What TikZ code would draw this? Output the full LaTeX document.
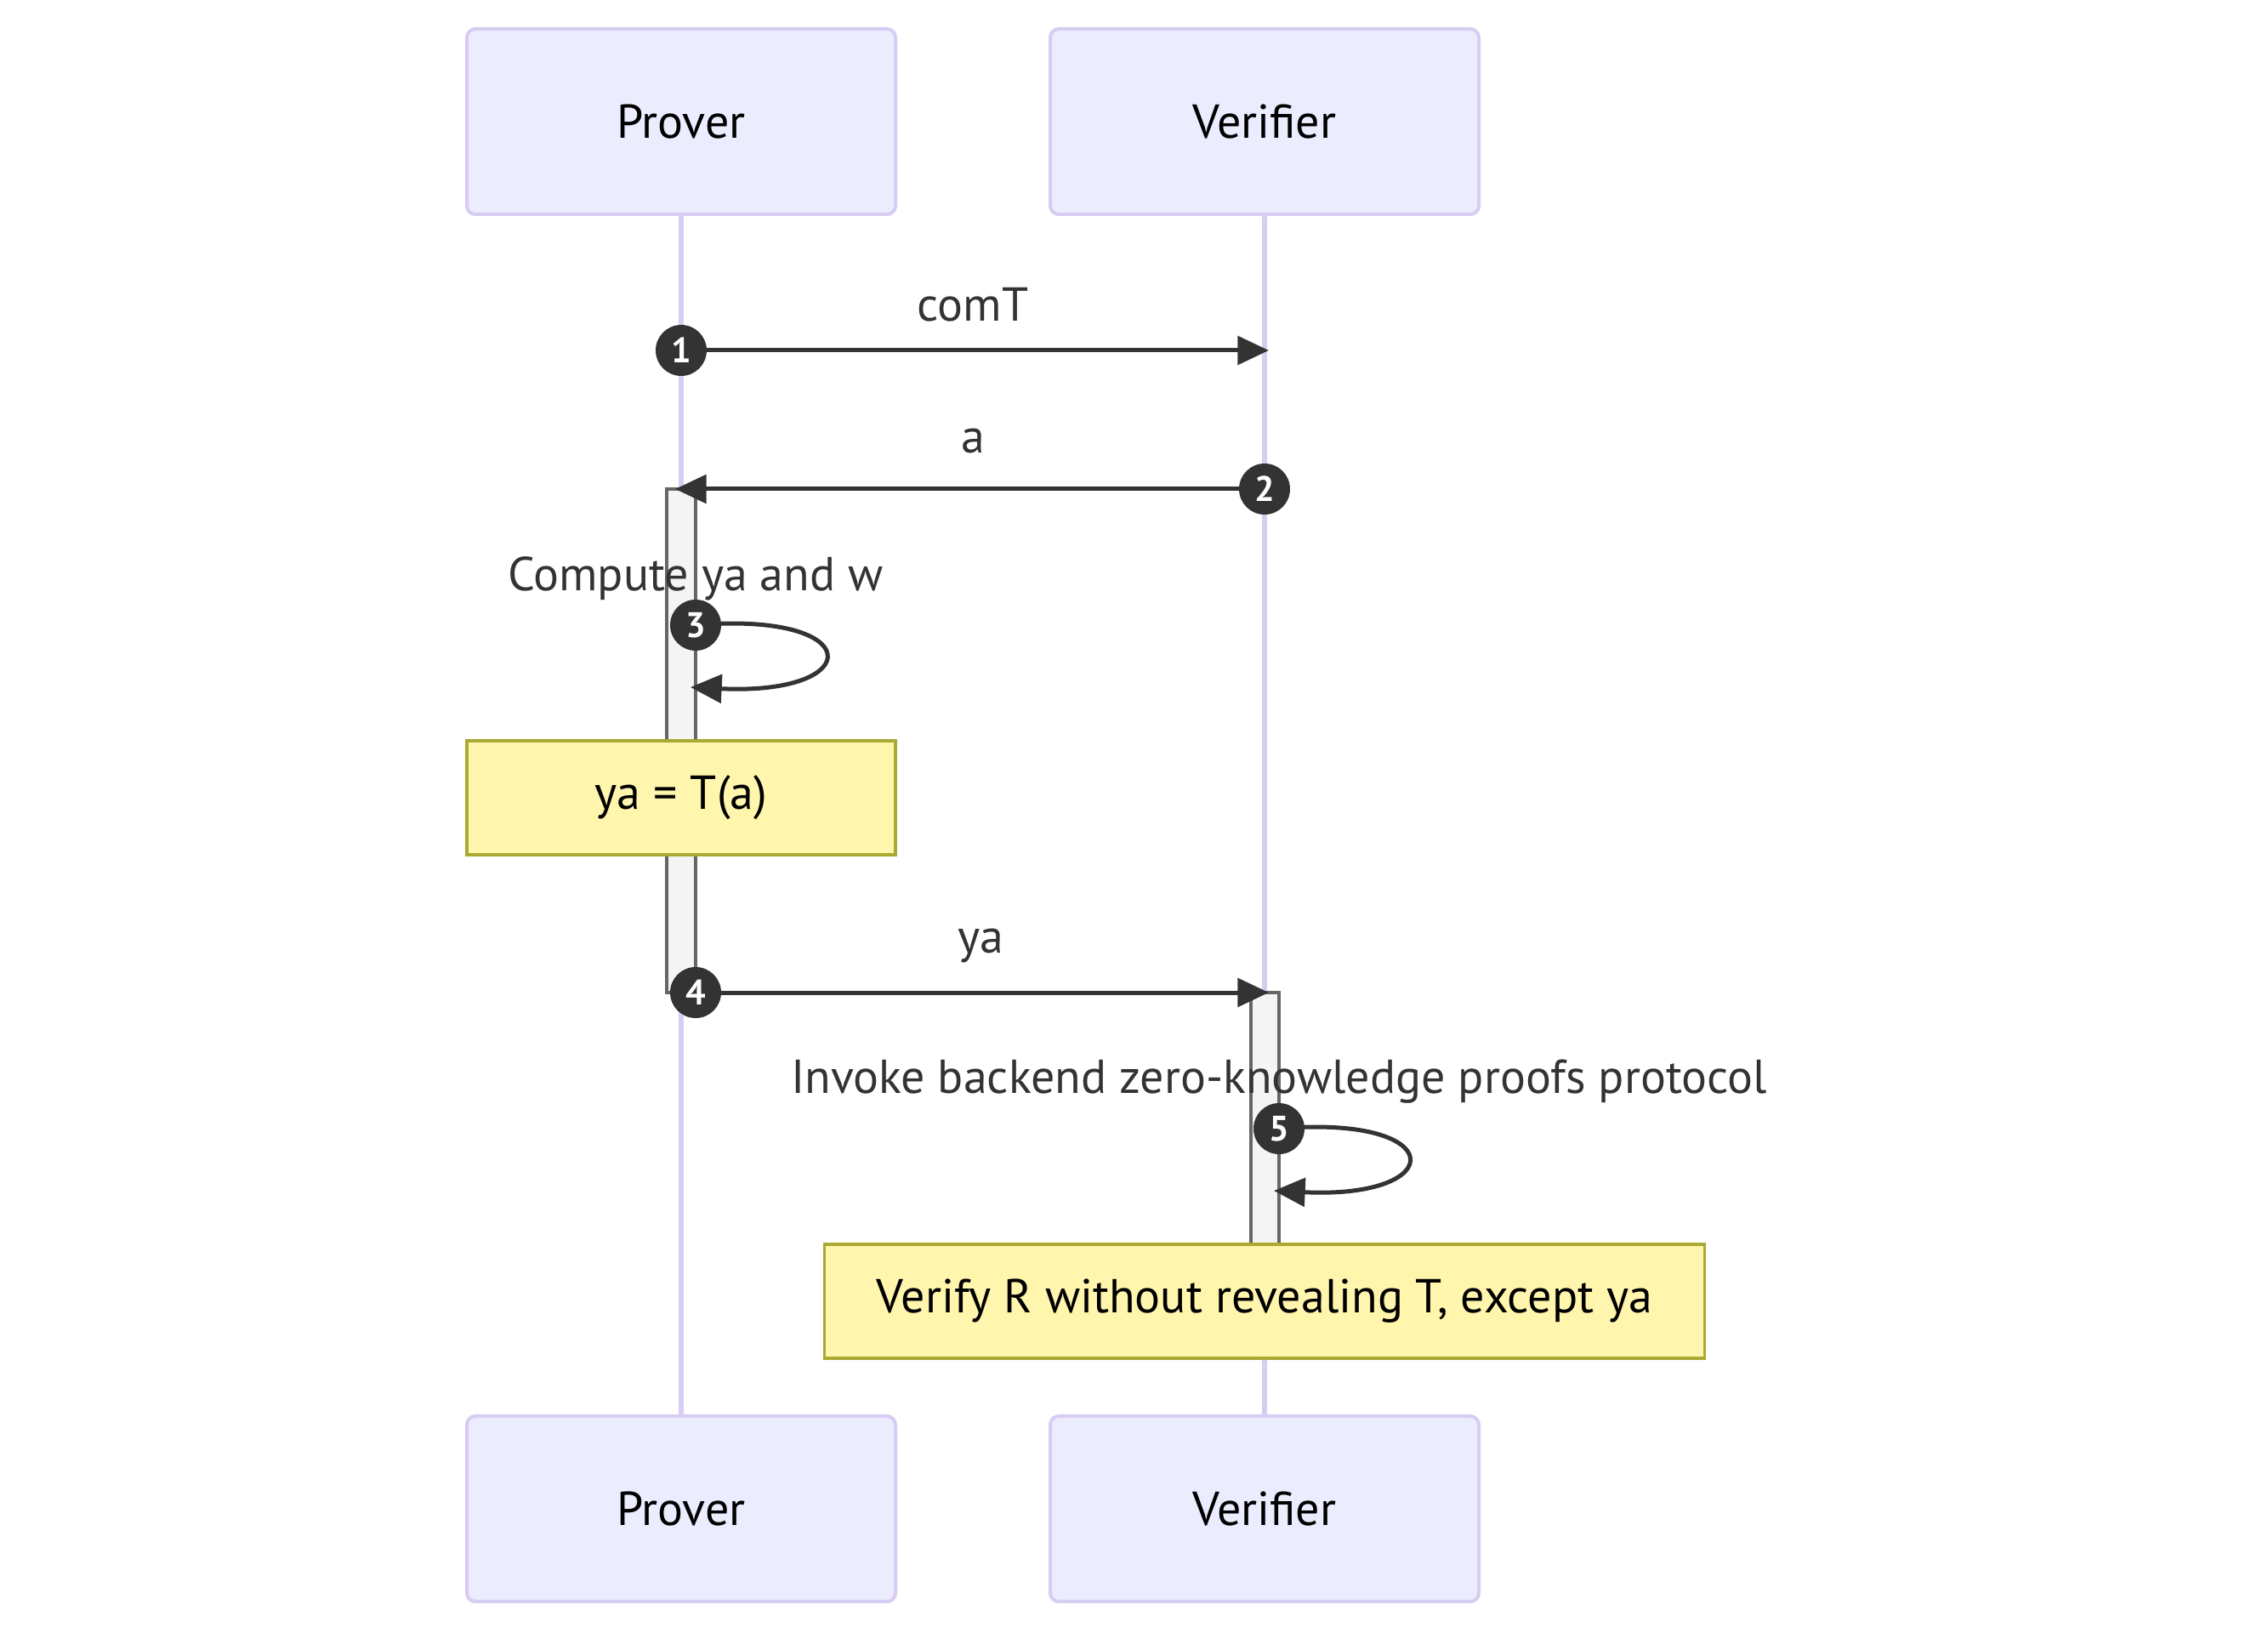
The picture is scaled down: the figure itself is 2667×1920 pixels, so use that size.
\documentclass[tikz,border=0pt]{standalone}
\usepackage{fontspec}
\setmainfont{PT Sans}
\usetikzlibrary{positioning, arrows.meta}

\definecolor{actorfill}{HTML}{ECECFF}
\definecolor{actorline}{HTML}{D7CCF2}
\definecolor{msgline}{HTML}{333333}
\definecolor{notefill}{HTML}{FFF5AD}
\definecolor{noteline}{HTML}{AAAA33}
\definecolor{actfill}{HTML}{F4F4F4}
\definecolor{actline}{HTML}{666666}

\begin{document}
\begin{tikzpicture}[x=0.3pt, y=-0.3pt, node distance=205.8pt, on grid,
    actor/.style={draw=actorline, fill=actorfill, line width=1.2pt, rounded corners=3pt,
      minimum width=151.2pt, minimum height=65.4pt, font=\fontsize{16.8}{20}\selectfont},
    note/.style={draw=noteline, fill=notefill, line width=1pt, minimum height=40.2pt,
      font=\fontsize{16.8}{20}\selectfont},
    msg/.style={draw=msgline, line width=1.5pt, -{Triangle[length=11pt,width=10pt]}},
    lbl/.style={text=msgline, font=\fontsize{16.8}{20}\selectfont},
    num/.style={circle, fill=msgline, text=white, inner sep=0pt, minimum size=18pt,
      font=\fontsize{12.5}{12.5}\selectfont\bfseries},
    life/.style={draw=actorline, line width=1.8pt},
    act/.style={draw=actline, fill=actfill, line width=1pt}]
  \useasboundingbox (0,0) rectangle (2667,1920);

  % actors
  \node[actor] (p_top) at (801,143) {Prover};
  \node[actor] (v_top) [right=of p_top] {Verifier};
  \node[actor] (p_bot) [below=489.3pt of p_top] {Prover};
  \node[actor] (v_bot) [below=489.3pt of v_top] {Verifier};
  \draw[life] (p_top) -- (p_bot);
  \draw[life] (v_top) -- (v_bot);

  % activations
  \draw[act] (784,575) rectangle (818,1167);
  \draw[act] (1471,1167) rectangle (1504,1597);

  % message ends
  \coordinate (s1) at (801,412);  \coordinate (e1) at (1492,412);
  \coordinate (s2) at (1487,575); \coordinate (e2) at (794,575);
  \coordinate (s3) at (818,735);  \coordinate (e3) at (812,808);
  \coordinate (s4) at (818,1167); \coordinate (e4) at (1492,1167);
  \coordinate (s5) at (1504,1327); \coordinate (e5) at (1498,1400);

  \draw[msg] (s1) -- (e1);
  \node[lbl] (l1) at (1144,358) {comT};
  \draw[msg] (s2) -- (e2);
  \node[lbl] (l2) at (1144,519) {a};
  \node[lbl] (l3) at (818,680) {Compute ya and w};
  \draw[msg] (s3) .. controls (1020,718) and (1020,818) .. (e3);
  \node[note] (n_ya) at (801,938) [minimum width=151.2pt] {ya = T(a)};
  \draw[msg] (s4) -- (e4);
  \node[lbl] (l4) at (1153,1112) {ya};
  \node[lbl] (l5) at (1504,1272) {Invoke backend zero-knowledge proofs protocol};
  \draw[msg] (s5) .. controls (1705,1310) and (1705,1410) .. (e5);
  \node[note] (n_ver) at (1487,1530) [minimum width=310.5pt] {Verify R without revealing T, except ya};

  % sequence numbers
  \node[num] (k1) at (s1) {1};
  \node[num] (k2) at (s2) {2};
  \node[num] (k3) at (s3) {3};
  \node[num] (k4) at (s4) {4};
  \node[num] (k5) at (s5) {5};
\end{tikzpicture}
\end{document}
